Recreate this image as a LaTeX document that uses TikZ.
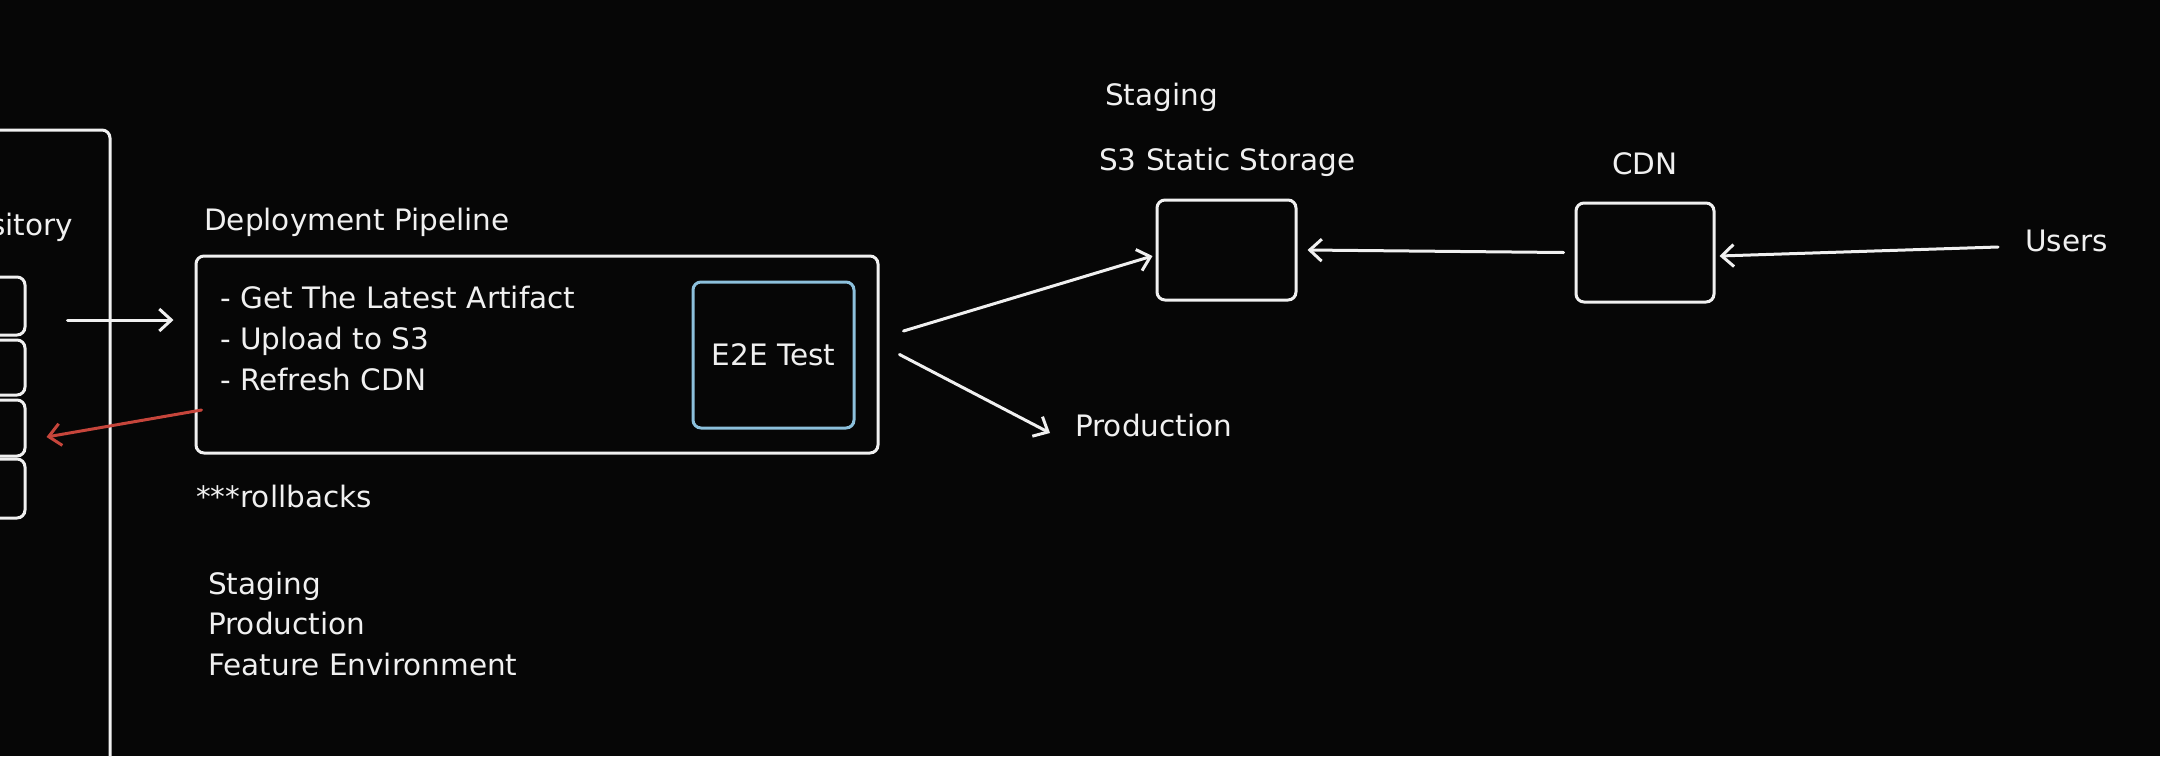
\documentclass[tikz,border=0pt]{standalone}
\usepackage{fontspec}
\setmainfont{DejaVu Sans}
\usetikzlibrary{arrows.meta}
\definecolor{bg}{HTML}{060606}
\definecolor{ink}{HTML}{F0F0F0}
\definecolor{redarrow}{HTML}{C6453B}
\definecolor{e2eblue}{HTML}{8CC0DC}
\begin{document}
\begin{tikzpicture}[x=1pt,y=-1pt,
  box/.style={draw=ink, line width=3pt, rounded corners=8pt, inner sep=0pt},
  lbl/.style={text=ink, font=\fontsize{29.5}{34}\selectfont, inner sep=0pt, anchor=base west},
  arr/.style={draw=ink, line width=3pt, line cap=round, -{Straight Barb[length=12pt,width=22pt,line width=3pt]}}]
\fill[bg] (0,0) rectangle (2160,756);
\useasboundingbox (0,0) rectangle (2160,756);
\clip (0,0) rectangle (2160,756);
% repository
\node[box, minimum width=150pt, minimum height=670pt] (repo) at (35,465) {};
\node[lbl, anchor=base east] (repolbl) at (73,235) {Repository};
\node[box, minimum width=85pt, minimum height=58pt] (b1) at (-17.5,306) {};
\node[box, minimum width=85pt, minimum height=55pt] (b2) at (-17.5,367.5) {};
\node[box, minimum width=85pt, minimum height=56pt] (b3) at (-17.5,428) {};
\node[box, minimum width=85pt, minimum height=59pt] (b4) at (-17.5,488.5) {};
% pipeline
\node[lbl] (pipelbl) at (204,230) {Deployment Pipeline};
\node[box, minimum width=682pt, minimum height=197pt] (pipe) at (537,354.5) {};
\node[lbl] (t1) at (220,308) {- Get The Latest Artifact};
\node[lbl] (t2) at (220,349) {- Upload to S3};
\node[lbl] (t3) at (220,390) {- Refresh CDN};
\node[box, draw=e2eblue, minimum width=161pt, minimum height=146pt, text=ink, font=\fontsize{29.5}{34}\selectfont] (e2e) at (773.5,355) {E2E Test};
\node[lbl] (rollb) at (196,507) {***rollbacks};
\node[lbl] (env1) at (208,594) {Staging};
\node[lbl] (env2) at (208,634) {Production};
\node[lbl] (env3) at (208,675) {Feature Environment};
% right part
\node[lbl] (prod) at (1075,436) {Production};
\node[lbl] (stag) at (1105,105) {Staging};
\node[lbl] (s3lbl) at (1099,170) {S3 Static Storage};
\node[box, minimum width=139pt, minimum height=100pt] (s3) at (1226.5,250) {};
\node[lbl, anchor=base] (cdnlbl) at (1645,174) {CDN};
\node[box, minimum width=138pt, minimum height=99pt] (cdn) at (1645,252.5) {};
\node[lbl] (users) at (2025,251) {Users};
% connectors
\draw[arr] ([xshift=41pt,yshift=-14pt]b1.east) -- ([xshift=-21pt,yshift=34.5pt]pipe.west);
\draw[arr, draw=redarrow] ([xshift=7pt,yshift=-55.5pt]pipe.west) -- ([xshift=20pt,yshift=-9pt]b3.east);
\draw[arr] ([xshift=24pt,yshift=23.5pt]pipe.east) -- ([xshift=-3pt,yshift=-6pt]s3.west);
\draw[arr] ([xshift=20pt]pipe.east) -- ([xshift=-25pt,yshift=3pt]prod.base west);
\draw[arr] ([xshift=-11pt]cdn.west) -- ([xshift=10pt]s3.east);
\draw[arr] ([xshift=-27pt,yshift=4pt]users.base west) -- ([xshift=4pt,yshift=-3.5pt]cdn.east);
\end{tikzpicture}
\end{document}
